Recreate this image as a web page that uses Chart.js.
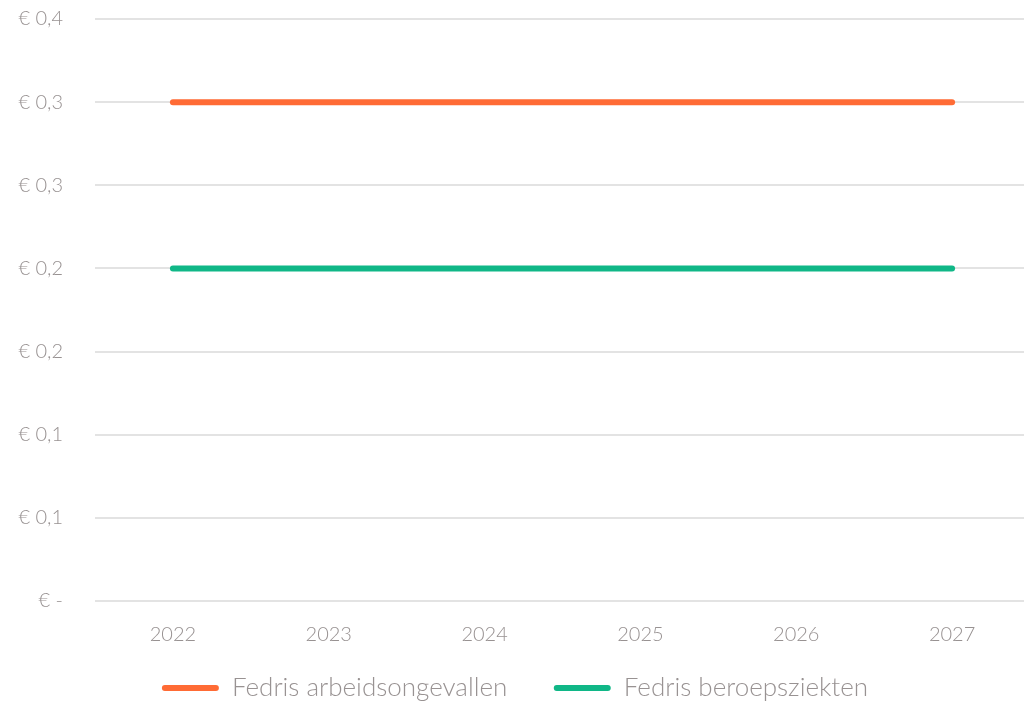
<!DOCTYPE html>
<html>
<head>
<meta charset="utf-8">
<script src="https://cdn.jsdelivr.net/npm/chart.js@4"></script>
<style>
  html, body { margin: 0; padding: 0; background: #fff; overflow: hidden; }
  #wrap { width: 1030px; height: 736px; margin-top: -25px; }
</style>
</head>
<body>
<div id="wrap"><canvas id="chart"></canvas></div>
<script>
// chart data
const years = ['2022', '2023', '2024', '2025', '2026', '2027'];
const arbeidsongevallen = [0.3, 0.3, 0.3, 0.3, 0.3, 0.3];
const beroepsziekten = [0.2, 0.2, 0.2, 0.2, 0.2, 0.2];
const yTickLabels = ['€ -', '€ 0,1', '€ 0,1', '€ 0,2', '€ 0,2', '€ 0,3', '€ 0,3', '€ 0,4'];

const textColor = '#989292';
const fontFamily = "'Source Sans Pro', Lato, 'Open Sans', sans-serif";

const ctx = document.getElementById('chart').getContext('2d');
new Chart(ctx, {
  type: 'line',
  data: {
    labels: years,
    datasets: [
      {
        label: 'Fedris arbeidsongevallen',
        data: arbeidsongevallen,
        borderColor: '#ff6b35',
        backgroundColor: '#ff6b35',
        borderWidth: 6,
        borderCapStyle: 'round',
        pointRadius: 0,
        fill: false,
      },
      {
        label: 'Fedris beroepsziekten',
        data: beroepsziekten,
        borderColor: '#10b787',
        backgroundColor: '#10b787',
        borderWidth: 6,
        borderCapStyle: 'round',
        pointRadius: 0,
        fill: false,
      },
    ],
  },
  options: {
    responsive: true,
    maintainAspectRatio: false,
    animation: false,
    layout: { padding: 0 },
    plugins: {
      tooltip: { enabled: false },
      legend: {
        position: 'bottom',
        labels: {
          color: textColor,
          font: { family: fontFamily, size: 26, weight: 300 },
          boxWidth: 57,
          boxHeight: 6,
          useBorderRadius: true,
          borderRadius: 3,
          padding: 14,
          // filled bar only (no stroke); extra room after the first item
          generateLabels: (chart) =>
            Chart.defaults.plugins.legend.labels.generateLabels(chart).map((item, i, all) => ({
              ...item,
              lineWidth: 0,
              text: i < all.length - 1 ? item.text + '\u2003\u2002' : item.text,
            })),
        },
      },
    },
    scales: {
      x: {
        offset: true,
        grid: { display: false },
        border: { display: false },
        ticks: {
          color: textColor,
          font: { family: fontFamily, size: 20, weight: 300 },
          padding: 14,
        },
      },
      y: {
        min: 0,
        max: 0.35,
        grid: { color: '#e3e3e3', lineWidth: 2, drawTicks: false },
        border: { display: false },
        ticks: {
          stepSize: 0.05,
          color: textColor,
          font: { family: fontFamily, size: 20, weight: 300 },
          padding: 32,
          callback: (value, index) => yTickLabels[index],
        },
        afterFit: (scale) => { scale.width = 95; },
      },
    },
  },
});
</script>
</body>
</html>
